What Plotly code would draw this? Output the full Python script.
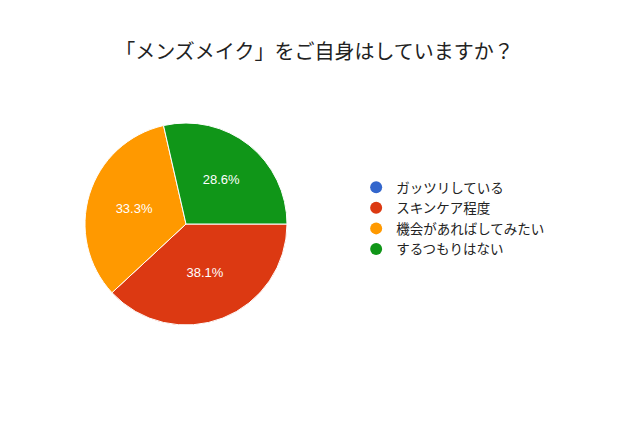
import plotly.graph_objects as go

# survey answers (21 responses)
labels = ["ガッツリしている", "スキンケア程度", "機会があればしてみたい", "するつもりはない"]
values = [0, 8, 7, 6]
colors = ["#3366cc", "#dc3912", "#ff9900", "#109618"]
title_text = "「メンズメイク」をご自身はしていますか？"

font_family = "Noto Sans CJK JP, Noto Sans, Arial, sans-serif"

fig = go.Figure()

# hide the label of empty slices
templates = ["" if v == 0 else "%{percent:.1%}" for v in values]

fig.add_trace(go.Pie(
    labels=labels,
    values=values,
    sort=False,
    direction="clockwise",
    rotation=90,
    marker=dict(colors=colors, line=dict(color="white", width=1)),
    texttemplate=templates,
    textposition="inside",
    insidetextorientation="horizontal",
    textfont=dict(color="white", size=13, family="Arial, Liberation Sans, sans-serif"),
    hoverinfo="label+percent",
    showlegend=False,
    domain=dict(x=[77 / 640, 279 / 640], y=[1 - 317 / 425, 1 - 115 / 425]),
))

# circle markers for the legend
for lab, col in zip(labels, colors):
    fig.add_trace(go.Scatter(
        x=[None], y=[None], mode="markers", name=lab,
        marker=dict(color=col, size=13, symbol="circle"),
    ))

fig.update_layout(
    width=640,
    height=425,
    margin=dict(l=0, r=0, t=0, b=0),
    paper_bgcolor="white",
    plot_bgcolor="white",
    title=dict(
        text=title_text,
        x=0.479, xanchor="center",
        y=1 - 44 / 425, yanchor="middle",
        font=dict(size=20, color="#222222", family=font_family),
    ),
    xaxis=dict(visible=False),
    yaxis=dict(visible=False),
    legend=dict(
        x=0.544, xanchor="left",
        y=1 - 164 / 425, yanchor="top",
        font=dict(size=13.5, color="#222222", family=font_family),
        itemsizing="constant",
        tracegroupgap=0,
        bgcolor="rgba(0,0,0,0)",
    ),
)

fig.write_html("out.html")
